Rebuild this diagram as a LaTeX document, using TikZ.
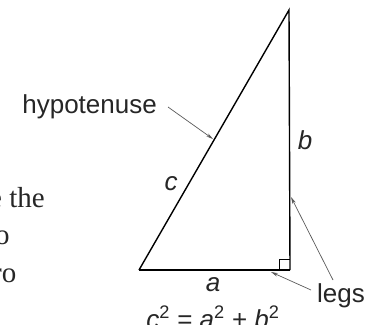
\documentclass[tikz,border=0pt]{standalone}
\usepackage{fontspec}
\setmainfont{Liberation Serif}
\setsansfont{Liberation Sans}
\usetikzlibrary{arrows.meta}
\begin{document}
\begin{tikzpicture}[x=1pt,y=-1pt,
  lab/.style={font=\sffamily\fontsize{26}{26}\selectfont, inner sep=0pt, text=black!85},
  var/.style={font=\sffamily\itshape\fontsize{26}{26}\selectfont, inner sep=0pt, text=black!85},
  body/.style={font=\fontsize{29}{29}\selectfont, inner sep=0pt, anchor=base west, text=black!85},
  side/.style={line width=1.4pt},
  pointer/.style={draw=black!65, line width=0.7pt, -{Stealth[length=7pt,width=3.5pt]}}]
\useasboundingbox (0,0) rectangle (369,324);
\begin{scope}
\clip (0,0) rectangle (369,324);
% triangle
\coordinate (A) at (139,270);
\coordinate (B) at (289,10);
\coordinate (C) at (290,270);
\draw[side, line join=miter] (A) -- (B) -- (C);
\draw[line width=2.2pt] (A) -- (C);
\draw[line width=0.7pt] (279,269) -- (279,259) -- (290,259);
% labels
\node[lab, anchor=base east] (hyp) at (157,113) {hypotenuse};
\coordinate (hs) at (168,107);
\coordinate (hypend) at (213,139);
\draw[pointer] (hs) -- (hypend);
\node[var] (c) at (171,184) {c};
\node[var] (b) at (305,140) {b};
\node[var] (a) at (213,285) {a};
\node[lab, anchor=base west] (legs) at (317,302) {legs};
\coordinate (l1s) at (333,280);
\coordinate (l2s) at (311,290);
\coordinate (leg1) at (291,197);
\coordinate (leg2) at (271,272);
\draw[pointer] (l1s) -- (leg1);
\draw[pointer] (l2s) -- (leg2);
\node[font=\sffamily\fontsize{26}{26}\selectfont, inner sep=0pt, anchor=base, text=black!85] (eq) at (213,328)
  {\textit{c}\textsuperscript{2} = \textit{a}\textsuperscript{2} + \textit{b}\textsuperscript{2}};
% cut-off body text at the left
\node[body] (t1) at (-11,207) {e the};
\node[body] (t2) at (-5,244) {o};
\node[body] (t3) at (-8,282) {ro};
\end{scope}
\end{tikzpicture}
\end{document}
